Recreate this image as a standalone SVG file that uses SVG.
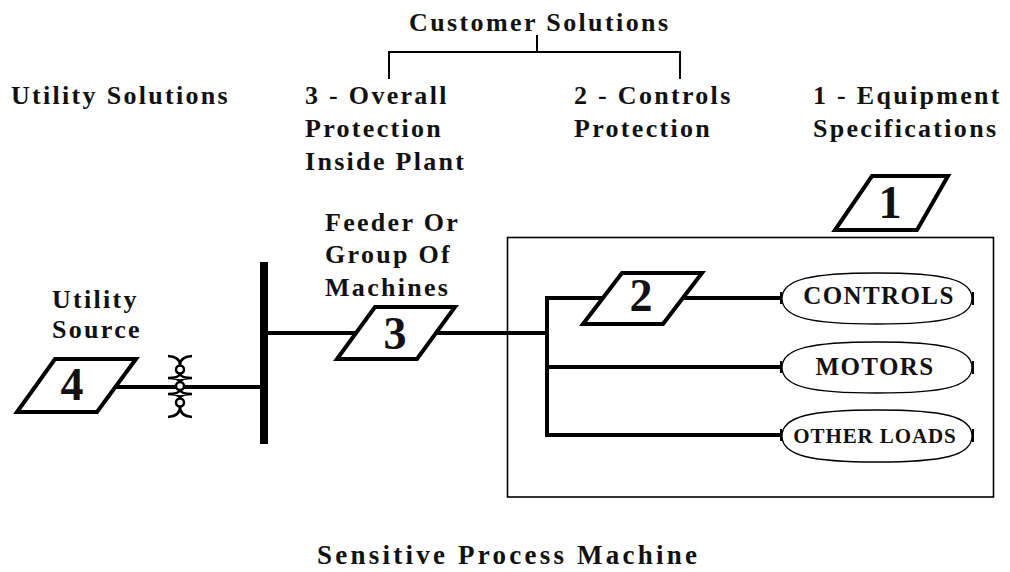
<svg xmlns="http://www.w3.org/2000/svg" width="1010" height="572" viewBox="0 0 1010 572">
<style>
text{font-family:"Liberation Serif","Times New Roman",serif;font-weight:bold;fill:#111;}
.lbl{font-size:26px;letter-spacing:2.3px;}
.num{font-size:46px;text-anchor:middle;letter-spacing:0;}
.ld{font-size:25px;text-anchor:middle;letter-spacing:1.4px;}
.pg{fill:#fff;stroke:#000;stroke-width:4;stroke-linejoin:miter;}
.w{fill:none;stroke:#000;stroke-width:4;}
.thin{fill:none;stroke:#000;stroke-width:2;}
.ell{fill:#fff;stroke:#000;stroke-width:1.3;}
.tick{stroke:#000;stroke-width:2;}
</style>
<rect width="1010" height="572" fill="#fff"/>

<g id="headers">
<text class="lbl" x="409" y="31" textLength="259" lengthAdjust="spacing" style="letter-spacing:0">Customer Solutions</text>
<text class="lbl" x="11" y="104">Utility Solutions</text>
<text class="lbl" x="305" y="104">3 - Overall</text>
<text class="lbl" x="305" y="137">Protection</text>
<text class="lbl" x="305" y="170">Inside Plant</text>
<text class="lbl" x="574" y="104">2 - Controls</text>
<text class="lbl" x="574" y="137">Protection</text>
<text class="lbl" x="813" y="104">1 - Equipment</text>
<text class="lbl" x="813" y="137">Specifications</text>
<text class="lbl" x="317" y="564" textLength="380" lengthAdjust="spacing" style="font-size:27px;letter-spacing:0">Sensitive Process Machine</text>
</g>

<g id="connectors">
<path class="thin" d="M537,35 V52 M389,79 V52 H680 V79"/>
<line class="w" x1="115" y1="387" x2="262" y2="387"/>
<line class="w" x1="266" y1="333" x2="357" y2="333"/>
<line class="w" x1="436" y1="333" x2="549" y2="333"/>
<path class="w" d="M604,298 H547 V435 H780"/>
<line class="w" x1="547" y1="367" x2="780" y2="367"/>
<line class="w" x1="683" y1="298" x2="780" y2="298"/>
<line class="tick" x1="781" y1="292" x2="781" y2="304"/>
<line class="tick" x1="781" y1="361" x2="781" y2="373"/>
<line class="tick" x1="781" y1="429" x2="781" y2="441"/>
</g>

<g id="bus">
<rect x="260" y="262" width="8" height="182" fill="#000"/>
</g>

<g id="switch" fill="none" stroke="#000" stroke-width="2.5">
<path d="M168,356 Q180,357 180,365 Q180,357 192,356"/>
<path d="M168,378 Q179,378 180,374 M192,378 Q181,378 180,374 M168,378 Q179,378 180,382 M192,378 Q181,378 180,382"/>
<path d="M168,394 Q179,394 180,390 M192,394 Q181,394 180,390 M168,394 Q179,394 180,398 M192,394 Q181,394 180,398"/>
<path d="M168,417 Q180,416 180,407 Q180,416 192,417"/>
<circle cx="180" cy="369.5" r="4" fill="#fff"/>
<circle cx="180" cy="386" r="4" fill="#fff"/>
<circle cx="180" cy="402.5" r="4" fill="#fff"/>
</g>

<g id="utility-source">
<polygon class="pg" points="55,359 136,359 97,412 17,412"/>
<text class="num" x="72" y="400">4</text>
<text class="lbl" x="52" y="308">Utility</text>
<text class="lbl" x="52" y="338">Source</text>
</g>

<g id="feeder">
<polygon class="pg" points="375,307 455,307 417,359 337,359"/>
<text class="num" x="395" y="349">3</text>
<text class="lbl" x="325" y="231">Feeder Or</text>
<text class="lbl" x="325" y="263">Group Of</text>
<text class="lbl" x="325" y="296">Machines</text>
</g>

<g id="machine">
<rect x="507.5" y="237.5" width="486" height="259.5" fill="none" stroke="#000" stroke-width="1.6"/>
</g>

<g id="equipment">
<polygon class="pg" points="872,176 948,176 917,230 835,230"/>
<text class="num" x="890" y="218">1</text>
</g>

<g id="controls-protection">
<polygon class="pg" points="622,273 702,273 663,324 583,324"/>
<text class="num" x="641" y="311">2</text>
</g>

<g id="controls">
<path class="ell" d="M782,298.5 C782,279 812,273 877,273 C942,273 972,279 972,298.5 C972,318 942,324 877,324 C812,324 782,318 782,298.5 Z"/>
<line class="tick" x1="973" y1="292" x2="973" y2="305"/>
<text class="ld" x="879" y="304">CONTROLS</text>
</g>

<g id="motors">
<path class="ell" d="M782,367.5 C782,348 812,342 877,342 C942,342 972,348 972,367.5 C972,387 942,393 877,393 C812,393 782,387 782,367.5 Z"/>
<line class="tick" x1="973" y1="361" x2="973" y2="374"/>
<text class="ld" x="875" y="375">MOTORS</text>
</g>

<g id="other-loads">
<path class="ell" d="M782,436 C782,416 812,410 877,410 C942,410 972,416 972,436 C972,456 942,462 877,462 C812,462 782,456 782,436 Z"/>
<line class="tick" x1="973" y1="429" x2="973" y2="442"/>
<text class="ld" x="875" y="443" style="font-size:21px;letter-spacing:0.9px">OTHER LOADS</text>
</g>
</svg>
